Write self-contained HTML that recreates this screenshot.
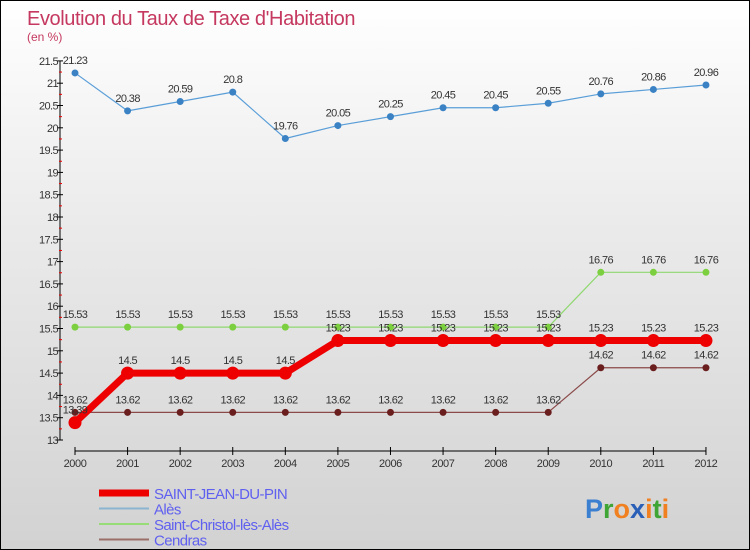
<!DOCTYPE html>
<html><head><meta charset="utf-8"><style>
body{margin:0}
#c{position:relative;width:748px;height:548px;border:1px solid #000;background:linear-gradient(#fff 0%,#ebebeb 40%,#d2d2d2 100%);overflow:hidden;font-family:"Liberation Sans",sans-serif}
svg text{font-family:"Liberation Sans",sans-serif}
</style></head><body>
<div id="c">
<svg id="s" width="748" height="548">
<text x="26" y="24" font-size="20" fill="#c5385f" style="letter-spacing:-0.4px">Evolution du Taux de Taxe d'Habitation</text>
<text x="26" y="40" font-size="12" fill="#c5385f">(en %)</text>
<g id="axes"></g><g id="series"></g><g id="legend"></g>
<text x="584" y="517" font-size="27" font-weight="bold"><tspan fill="#3a7fd0">P</tspan><tspan fill="#3fa535">r</tspan><tspan fill="#f08020">o</tspan><tspan fill="#2a5fb8">x</tspan><tspan fill="#f08020">i</tspan><tspan fill="#3fa535">t</tspan><tspan fill="#f08020">i</tspan></text>
</svg></div>
<script>
const years=[2000,2001,2002,2003,2004,2005,2006,2007,2008,2009,2010,2011,2012];
const sjValues=[13.39,14.5,14.5,14.5,14.5,15.23,15.23,15.23,15.23,15.23,15.23,15.23,15.23];
const alesValues=[21.23,20.38,20.59,20.8,19.76,20.05,20.25,20.45,20.45,20.55,20.76,20.86,20.96];
const scValues=[15.53,15.53,15.53,15.53,15.53,15.53,15.53,15.53,15.53,15.53,16.76,16.76,16.76];
const cendrasValues=[13.62,13.62,13.62,13.62,13.62,13.62,13.62,13.62,13.62,13.62,14.62,14.62,14.62];
const yTicks=[13,13.5,14,14.5,15,15.5,16,16.5,17,17.5,18,18.5,19,19.5,20,20.5,21,21.5];
const NS="http://www.w3.org/2000/svg";
const X=i=>74+i*52.58, Y=v=>439-(v-13)*44.6;
function mk(p,t,a){const e=document.createElementNS(NS,t);for(const k in a)e.setAttribute(k,a[k]);p.appendChild(e);return e;}
const ax=document.getElementById('axes');
const yl=mk(ax,'line',{x1:59,y1:Y(21.5),x2:59,y2:Y(13),stroke:'#000'});


yTicks.forEach(v=>{
 mk(ax,'line',{x1:56,x2:62,y1:Y(v),y2:Y(v),stroke:'#000'});
 if(v<21.5) mk(ax,'line',{x1:58,x2:61,y1:Y(v+0.25),y2:Y(v+0.25),stroke:'#e00'});
 const t=mk(ax,'text',{x:57,y:Y(v)+4,'font-size':11,fill:'#333','text-anchor':'end','letter-spacing':'-0.6'});
 t.textContent=v;
 
 
});
const xl=mk(ax,'line',{x1:X(0),x2:X(12),y1:450,y2:450,stroke:'#000'});


years.forEach((y,i)=>{
 mk(ax,'line',{x1:X(i),x2:X(i),y1:446,y2:454,stroke:'#000'});
 const t=mk(ax,'text',{x:X(i),y:466,'font-size':11,fill:'#333','text-anchor':'middle','letter-spacing':'-0.4'});
 t.textContent=y;
 
 
});
const sg=document.getElementById('series');
function series(vals,color,w,r,dot,name){
 const g=mk(sg,'g',{});
 
 
 mk(g,'polyline',{points:vals.map((v,i)=>X(i)+','+Y(v)).join(' '),fill:'none',stroke:color,'stroke-width':w,'stroke-linejoin':'round'});
 vals.forEach((v,i)=>{
  const c=mk(g,'circle',{cx:X(i),cy:Y(v),r:r,fill:dot});
  
  
  const t=mk(g,'text',{x:X(i),y:Y(v)-9,'font-size':11,fill:'#333','text-anchor':'middle','letter-spacing':'-0.6'});
  t.textContent=v;
  
  
 });
}
series(cendrasValues,'#8b4a4a',1.2,3.5,'#6a1e1e','series-cendras');
series(scValues,'#90d870',1.2,3.5,'#7cd040','series-saint-christol');
series(alesValues,'#5a9ed8',1.2,3.5,'#3a82c4','series-ales');
series(sjValues,'#ee0000',7,6.5,'#ee0000','series-saint-jean-du-pin');
const lg=document.getElementById('legend');
[['SAINT-JEAN-DU-PIN','#ee0000',7],['Alès','#8ab4d0',2],['Saint-Christol-lès-Alès','#98dc78',2],['Cendras','#9a6f6a',2]].forEach((d,i)=>{
 const y=492+i*15.5;
 const g=mk(lg,'g',{});
 
 
 mk(g,'line',{x1:98,x2:148,y1:y,y2:y,stroke:d[1],'stroke-width':d[2]});
 const t=mk(g,'text',{x:153,y:y+6,'font-size':15,fill:'#6060f0','letter-spacing':'-0.6'});
 t.textContent=d[0];
});
</script>
</body></html>
